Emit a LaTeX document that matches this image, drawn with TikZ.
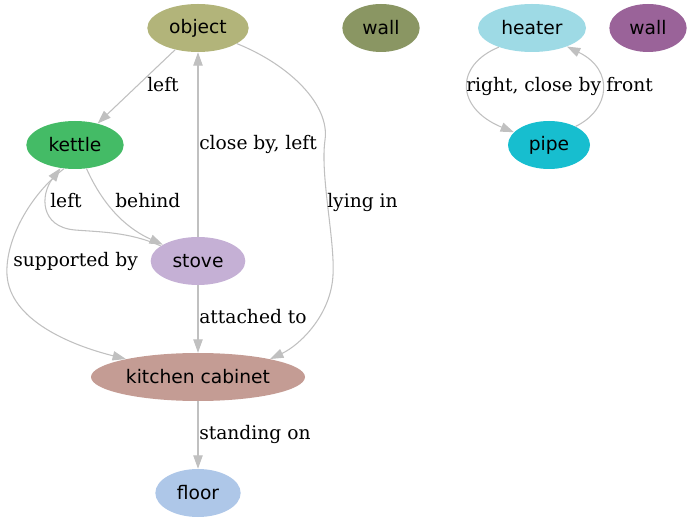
\documentclass[tikz,border=0pt]{standalone}
\usepackage{fontspec}
\setmainfont{DejaVu Serif}
\newfontfamily\nodefont{DejaVu Sans}
\usetikzlibrary{shapes}
\usetikzlibrary{arrows.meta}
\usetikzlibrary{calc,positioning}

\definecolor{cobject}{HTML}{B2B47A}
\definecolor{cwallA}{HTML}{8A9663}
\definecolor{cheater}{HTML}{9EDAE5}
\definecolor{cwallB}{HTML}{9A6399}
\definecolor{ckettle}{HTML}{44BB66}
\definecolor{cpipe}{HTML}{17BECF}
\definecolor{cstove}{HTML}{C5B0D5}
\definecolor{ccabinet}{HTML}{C49C94}
\definecolor{cfloor}{HTML}{AEC7E8}
\definecolor{cedge}{HTML}{C0C0C0}

\begin{document}
\begin{tikzpicture}[x=0.75pt, y=-0.75pt]
	\tikzstyle{obj}=[ellipse, draw=none, minimum height=36pt, inner sep=0pt,
	font=\nodefont\fontsize{14}{16}\selectfont]
	\tikzstyle{rel}=[cedge, line width=0.8pt, -{Triangle[length=10pt, width=7pt]}]
	\tikzstyle{lbl}=[anchor=base west, inner sep=0pt, font=\fontsize{14}{16}\selectfont]
	\useasboundingbox (0,0) rectangle (692,523);
	% objects
	\node[obj, fill=cobject, minimum width=76pt] (object) at (198,28) {object};
	\node[obj, fill=cwallA, minimum width=58pt] (wallA) at (381,28) {wall};
	\node[obj, fill=cheater, minimum width=81pt] (heater) at (532,28) {heater};
	\node[obj, fill=cwallB, minimum width=58pt] (wallB) at (648,28) {wall};
	\node[obj, fill=ckettle, minimum width=73pt] (kettle) at (75,145) {kettle};
	\node[obj, fill=cpipe, minimum width=61.5pt] (pipe) at (549,145) {pipe};
	\node[obj, fill=cstove, minimum width=71pt] (stove) at (198,261) {stove};
	\node[obj, fill=ccabinet, minimum width=160.5pt] (cabinet) at (198,377) {kitchen cabinet};
	\node[obj, fill=cfloor, minimum width=64pt] (floor) at (198,493) {floor};
	% relations
	\draw[rel] (object) -- (kettle);
	\draw[rel] (stove) -- (object);
	\draw[rel] (object) .. controls (290,65) and (330,105) .. (325,140)
		.. controls (320,175) and (335,240) .. (333,275)
		.. controls (331,315) and (300,345) .. (cabinet.14);
	\draw[rel] (kettle.-64) .. controls (105,210) and (130,230) .. (stove.155);
	\draw[rel] (stove.158) .. controls (130,232) and (100,232) .. (75,230)
		.. controls (40,227) and (40,195) .. (kettle.-122);
	\draw[rel] (kettle.-115) .. controls (30,195) and (5,240) .. (7,275)
		.. controls (10,320) and (70,345) .. (cabinet.166);
	\draw[rel] (stove) -- (cabinet);
	\draw[rel] (cabinet) -- (floor);
	\draw[rel] (heater.-150) .. controls (455,65) and (455,108) .. (pipe.160);
	\draw[rel] (pipe.35) .. controls (610,110) and (615,70) .. (heater.-28);
	% labels
	\node[lbl] (lleft) at (147,91.5) {left};
	\node[lbl] (lcloseleft) at (199,149.5) {close by, left};
	\node[lbl] (llying) at (327,207.5) {lying in};
	\node[lbl] (lbehind) at (115,207.5) {behind};
	\node[lbl] (lleftB) at (50,207.5) {left};
	\node[lbl] (lsupported) at (13,266.5) {supported by};
	\node[lbl] (lattached) at (199,323.5) {attached to};
	\node[lbl] (lstanding) at (199,439.5) {standing on};
	\node[lbl] (lrightclose) at (466,91.5) {right, close by};
	\node[lbl] (lfront) at (606,91.5) {front};
\end{tikzpicture}
\end{document}
